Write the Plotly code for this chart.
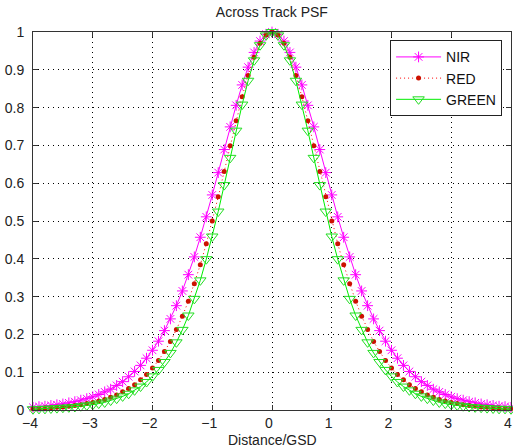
import plotly.graph_objects as go

# distance in GSD units, -4 .. 4 step 0.1
distance = [round(-4 + 0.1 * i, 1) for i in range(81)]

nir = [0.007, 0.009, 0.010, 0.012, 0.014, 0.016, 0.019, 0.022, 0.026, 0.030,
       0.035, 0.041, 0.048, 0.055, 0.065, 0.075, 0.088, 0.102, 0.118, 0.137,
       0.158, 0.182, 0.210, 0.241, 0.276, 0.315, 0.358, 0.405, 0.457, 0.511,
       0.569, 0.628, 0.689, 0.749, 0.806, 0.860, 0.907, 0.946, 0.976, 0.994,
       1.000,
       0.994, 0.976, 0.946, 0.907, 0.860, 0.806, 0.749, 0.689, 0.628, 0.569,
       0.511, 0.457, 0.405, 0.358, 0.315, 0.276, 0.241, 0.210, 0.182, 0.158,
       0.137, 0.118, 0.102, 0.088, 0.075, 0.065, 0.055, 0.048, 0.041, 0.035,
       0.030, 0.026, 0.022, 0.019, 0.016, 0.014, 0.012, 0.010, 0.009, 0.007]

red = [0.003, 0.004, 0.005, 0.006, 0.007, 0.008, 0.010, 0.012, 0.014, 0.017,
       0.020, 0.024, 0.028, 0.034, 0.040, 0.048, 0.057, 0.067, 0.080, 0.094,
       0.111, 0.131, 0.155, 0.181, 0.213, 0.248, 0.288, 0.334, 0.384, 0.440,
       0.500, 0.564, 0.631, 0.699, 0.765, 0.829, 0.885, 0.933, 0.970, 0.992,
       1.000,
       0.992, 0.970, 0.933, 0.885, 0.829, 0.765, 0.699, 0.631, 0.564, 0.500,
       0.440, 0.384, 0.334, 0.288, 0.248, 0.213, 0.181, 0.155, 0.131, 0.111,
       0.094, 0.080, 0.067, 0.057, 0.048, 0.040, 0.034, 0.028, 0.024, 0.020,
       0.017, 0.014, 0.012, 0.010, 0.008, 0.007, 0.006, 0.005, 0.004, 0.003]

green = [0.002, 0.003, 0.003, 0.004, 0.005, 0.006, 0.007, 0.008, 0.010, 0.012,
         0.014, 0.017, 0.020, 0.025, 0.030, 0.036, 0.043, 0.052, 0.062, 0.074,
         0.089, 0.106, 0.127, 0.151, 0.179, 0.212, 0.250, 0.294, 0.343, 0.399,
         0.459, 0.525, 0.595, 0.667, 0.739, 0.808, 0.871, 0.925, 0.965, 0.991,
         1.000,
         0.991, 0.965, 0.925, 0.871, 0.808, 0.739, 0.667, 0.595, 0.525, 0.459,
         0.399, 0.343, 0.294, 0.250, 0.212, 0.179, 0.151, 0.127, 0.106, 0.089,
         0.074, 0.062, 0.052, 0.043, 0.036, 0.030, 0.025, 0.020, 0.017, 0.014,
         0.012, 0.010, 0.008, 0.007, 0.006, 0.005, 0.004, 0.003, 0.003, 0.002]

font = "Liberation Sans, Arial, sans-serif"
text_color = "#222222"

fig = go.Figure()

fig.add_trace(go.Scatter(
    x=distance, y=nir, name="NIR", mode="lines+markers",
    line=dict(color="#ff00ff", width=1),
    marker=dict(symbol="asterisk-open", size=9, color="#ff00ff",
                line=dict(color="#ff00ff", width=1)),
    cliponaxis=False,
))
fig.add_trace(go.Scatter(
    x=distance, y=red, name="RED", mode="lines+markers",
    line=dict(color="#ff0000", width=1, dash="1px,3px"),
    marker=dict(symbol="circle", size=5, color="#cc1100"),
    cliponaxis=False,
))
fig.add_trace(go.Scatter(
    x=distance, y=green, name="GREEN", mode="lines+markers",
    line=dict(color="#00ee00", width=1),
    marker=dict(symbol="triangle-down-open", size=10, color="#22dd22",
                line=dict(color="#22dd22", width=1)),
    cliponaxis=False,
))

axis_style = dict(
    showline=True, linecolor="#333333", linewidth=1, mirror="ticks",
    ticks="inside", ticklen=5, tickcolor="#333333",
    showgrid=True, gridcolor="#000000", gridwidth=1, griddash="1px,4px",
    zeroline=False, automargin=False, ticklabeloverflow="allow",
    tickfont=dict(family=font, size=14, color=text_color),
)

fig.update_xaxes(range=[-4, 4], dtick=1, tick0=-4, ticklabelshift=-3,
                 **axis_style)
fig.update_yaxes(range=[0, 1], dtick=0.1, tick0=0, ticklabelstandoff=5,
                 **axis_style)

fig.update_layout(
    width=513, height=448,
    margin=dict(l=33, r=2, t=32, b=38),
    paper_bgcolor="white", plot_bgcolor="white",
    title=dict(text="Across Track PSF", x=0.53, xanchor="center",
               y=0.973, yanchor="middle",
               font=dict(family=font, size=14, color=text_color)),
    annotations=[dict(text="Distance/GSD", xref="paper", yref="paper",
                      x=0.5, y=-0.079, xanchor="center", yanchor="middle",
                      showarrow=False,
                      font=dict(family=font, size=14, color=text_color))],
    legend=dict(x=0.747, y=0.978, xanchor="left", yanchor="top",
                bgcolor="white", bordercolor="#222222", borderwidth=1,
                font=dict(family=font, size=14, color="#111111"),
                itemwidth=45, tracegroupgap=0),
    showlegend=True,
)

# drop the default page margin so the figure sits at the window's corner
fig.write_html("out.html",
               config={"displayModeBar": False},
               post_script="document.body.style.margin='0';")
